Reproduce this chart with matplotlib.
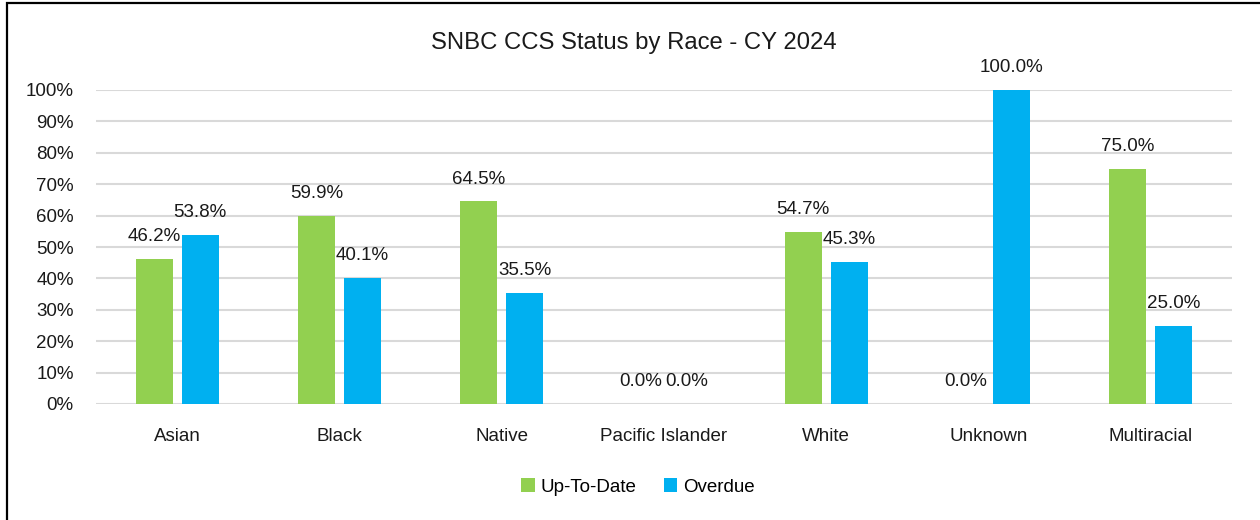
import numpy as np
import matplotlib
matplotlib.use("Agg")
import matplotlib.pyplot as plt
from matplotlib.patches import Rectangle

plt.rcParams['font.family'] = ['Liberation Sans', 'DejaVu Sans']

races = ["Asian", "Black", "Native", "Pacific Islander", "White", "Unknown", "Multiracial"]
up_to_date = [46.2, 59.9, 64.5, 0.0, 54.7, 0.0, 75.0]
overdue = [53.8, 40.1, 35.5, 0.0, 45.3, 100.0, 25.0]
yticks = list(range(0, 101, 10))

GREEN = "#92D050"
BLUE = "#00B0F0"

fig = plt.figure(figsize=(12.6, 5.2), dpi=100)
ax = fig.add_axes([96 / 1260, 1 - 404 / 520, (1232 - 96) / 1260, 314 / 520])

# outer chart frame (cut off at right and bottom like the screenshot)
fig.patches.append(Rectangle((7 / 1260, -0.1), 1.2, 1 - 3 / 520 + 0.1,
                             transform=fig.transFigure, fill=False,
                             edgecolor="black", linewidth=1.6))

x = np.arange(len(races))
w = 0.228
off = 0.142
b1 = ax.bar(x - off, up_to_date, w, color=GREEN, label="Up-To-Date", zorder=3)
b2 = ax.bar(x + off, overdue, w, color=BLUE, label="Overdue", zorder=3)

for bars, vals in ((b1, up_to_date), (b2, overdue)):
    for r, v in zip(bars, vals):
        ax.annotate(f"{v:.1f}%", (r.get_x() + r.get_width() / 2, v),
                    xytext=(0, 10), textcoords="offset points",
                    ha="center", va="bottom", fontsize=13.5, color="#1a1a1a")

ax.set_xlim(-0.5, len(races) - 0.5)
ax.set_ylim(0, 100)
ax.set_yticks(yticks)
ax.set_yticklabels([f"{t}%" for t in yticks], fontsize=13.5)
ax.set_xticks(x)
ax.set_xticklabels(races, fontsize=13.5)
ax.tick_params(axis="both", length=0, colors="#1a1a1a")
ax.tick_params(axis="y", pad=16)
ax.tick_params(axis="x", pad=17)
ax.grid(axis="y", color="#D9D9D9", linewidth=1.5, zorder=0)
for s in ax.spines.values():
    s.set_visible(False)

fig.text(634 / 1260, 1 - 43 / 520, "SNBC CCS Status by Race - CY 2024",
         ha="center", va="center", fontsize=17.2, color="#1a1a1a")

fig.legend(handles=[b1, b2], loc="center", bbox_to_anchor=(638 / 1260, 1 - 487 / 520),
           ncol=2, frameon=False, fontsize=13.5, handlelength=0.7, handleheight=0.7,
           handletextpad=0.3, columnspacing=1.5)

fig.savefig("out.png", dpi=100)
